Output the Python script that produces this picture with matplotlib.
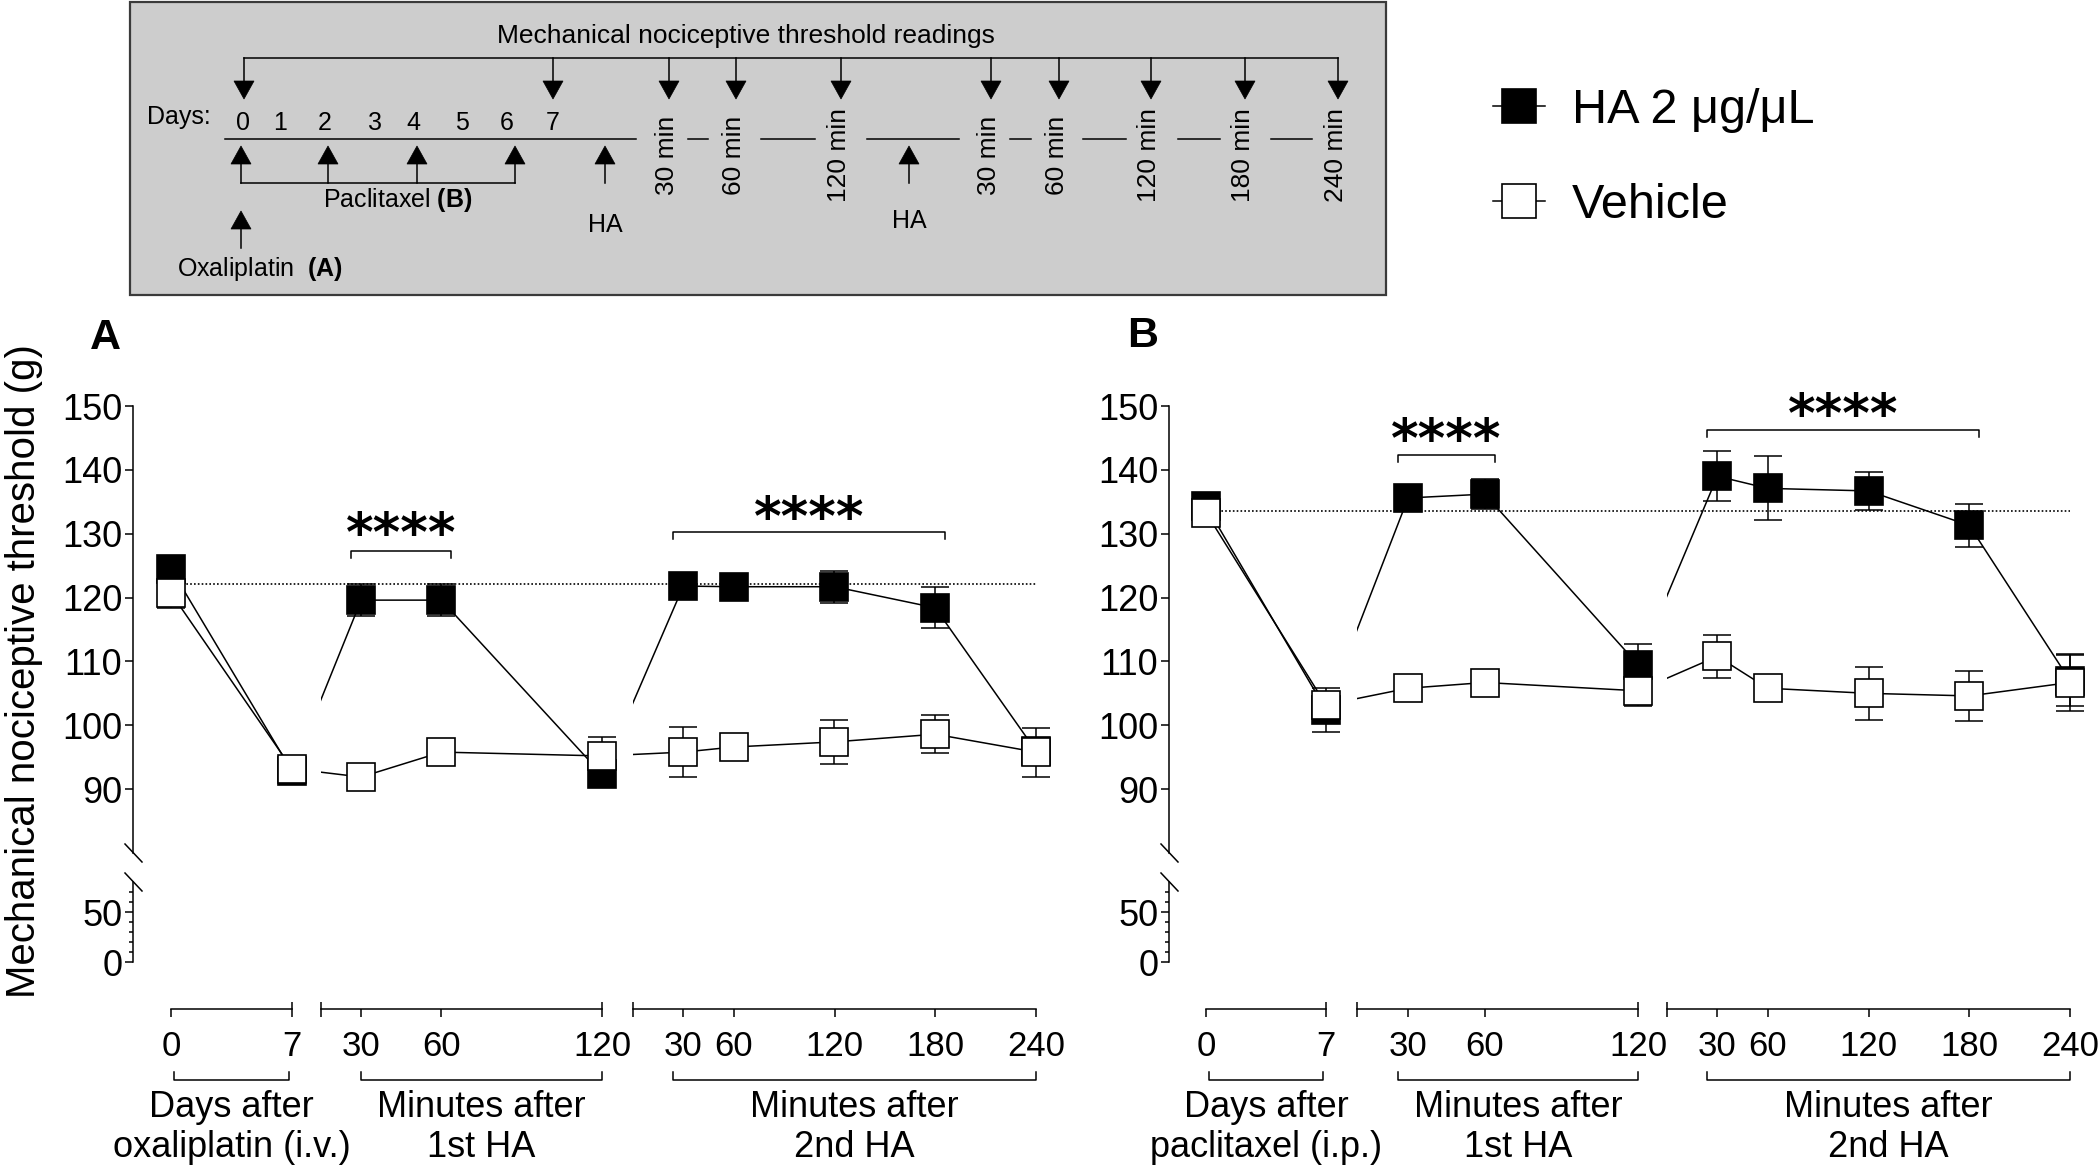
import numpy as np
import matplotlib
matplotlib.use("Agg")
import matplotlib.pyplot as plt
from matplotlib import font_manager as fm
from matplotlib.lines import Line2D
from matplotlib.patches import Rectangle, Polygon, PathPatch
from matplotlib.path import Path

# ---- data (mean, SEM) ----
days = [0, 7]
min_1st = [30, 60, 120]
min_2nd = [30, 60, 120, 180, 240]

# panel A: oxaliplatin
oxa_ha_days = [124.5, 92.8]
oxa_ha_days_sem = [1.5, 1.0]
oxa_ha_1st = [119.6, 119.6, 92.3]
oxa_ha_1st_sem = [2.5, 2.5, 1.4]
oxa_ha_2nd = [121.8, 121.7, 121.7, 118.4, 96.0]
oxa_ha_2nd_sem = [1.5, 1.2, 2.5, 3.2, 1.5]
oxa_veh_days = [120.7, 93.2]
oxa_veh_days_sem = [2.3, 1.0]
oxa_veh_1st = [91.9, 95.8, 95.2]
oxa_veh_1st_sem = [1.0, 1.2, 2.9]
oxa_veh_2nd = [95.8, 96.6, 97.4, 98.6, 95.8]
oxa_veh_2nd_sem = [3.9, 1.2, 3.5, 3.0, 3.85]
oxa_baseline = 122.1

# panel B: paclitaxel
pac_ha_days = [134.4, 102.4]
pac_ha_days_sem = [1.5, 3.5]
pac_ha_1st = [135.6, 136.2, 109.5]
pac_ha_1st_sem = [1.5, 2.4, 3.3]
pac_ha_2nd = [139.0, 137.1, 136.7, 131.3, 107.0]
pac_ha_2nd_sem = [3.9, 5.0, 3.0, 3.4, 4.0]
pac_veh_days = [133.3, 103.2]
pac_veh_days_sem = [2.0, 1.5]
pac_veh_1st = [105.8, 106.7, 105.4]
pac_veh_1st_sem = [1.0, 1.0, 2.4]
pac_veh_2nd = [110.8, 105.8, 105.0, 104.6, 106.7]
pac_veh_2nd_sem = [3.35, 1.0, 4.1, 3.9, 4.4]
pac_baseline = 133.5

# significance: (first point, last point, bracket y, stars y)
oxa_sig = [(2, 3, 127.3, 132.0), (5, 8, 130.3, 134.5)]
pac_sig = [(2, 3, 142.3, 146.7), (5, 8, 146.3, 150.6)]

# ---- fonts ----
names = {f.name for f in fm.fontManager.ttflist}
SANS = "Liberation Sans" if "Liberation Sans" in names else "DejaVu Sans"
NARROW = "Liberation Sans Narrow" if "Liberation Sans Narrow" in names else SANS
SCH = 21 if NARROW != SANS else 18
plt.rcParams["font.family"] = [SANS, "DejaVu Sans"]
plt.rcParams["mathtext.fontset"] = "custom"
plt.rcParams["mathtext.rm"] = NARROW
plt.rcParams["mathtext.bf"] = NARROW + ":bold"

W, H = 2100, 1169
fig = plt.figure(figsize=(W / 100, H / 100), dpi=100)
LW = 1.1

# overlay in pixel coordinates for the schematic and annotations
ov = fig.add_axes([0, 0, 1, 1])
ov.set_xlim(0, W)
ov.set_ylim(H, 0)
ov.axis("off")


def ax_px(x0, y0, x1, y1):
    return fig.add_axes([x0 / W, 1 - y1 / H, (x1 - x0) / W, (y1 - y0) / H])


def to_px(seg, v):
    lo, hi, p0, p1 = seg
    return p0 + (np.asarray(v, float) - lo) / (hi - lo) * (p1 - p0)


# ---- schematic ----
ov.add_patch(Rectangle((130, 2), 1256, 293, fc="#cdcdcd", ec="#3a3a3a", lw=1.6))
ov.text(746, 43, "Mechanical nociceptive threshold readings", ha="center",
        va="baseline", fontsize=SCH + 1, family=NARROW)


def arrow(x, y_from, y_tip, head=18, half=10):
    d = 1 if y_tip > y_from else -1
    ov.plot([x, x], [y_from, y_tip - d * head], color="k", lw=LW)
    ov.add_patch(Polygon([(x - half, y_tip - d * head), (x + half, y_tip - d * head),
                          (x, y_tip)], closed=True, fc="k", ec="k", lw=0.5))


reading_x = [244, 553, 669, 736, 841, 991, 1059, 1151, 1245, 1338]
ov.plot([reading_x[0], reading_x[-1]], [58, 58], color="k", lw=LW)
for x in reading_x:
    arrow(x, 58, 99)

ov.text(147, 124, "Days:", ha="left", va="baseline", fontsize=SCH, family=NARROW)
day_labels = ["0", "1", "2", "3", "4", "5", "6", "7"]
day_label_x = [243, 280, 325, 375, 413, 462, 507, 553]
for x, s in zip(day_label_x, day_labels):
    ov.text(x, 130, s, ha="center", va="baseline", fontsize=SCH, family=NARROW)

timeline = [(225, 636), (688, 708), (761, 815), (867, 959), (1010, 1031),
            (1083, 1126), (1178, 1220), (1271, 1312)]
for a, b in timeline:
    ov.plot([a, b], [139, 139], color="k", lw=LW)

time_labels = ["30 min", "60 min", "120 min", "30 min", "60 min", "120 min",
               "180 min", "240 min"]
for x, s in zip(reading_x[2:], time_labels):
    ov.text(x - 2, 155, s, rotation=90, ha="center", va="center",
            fontsize=SCH + 1, family=NARROW)

pac_x = [241, 328, 417, 515]
for x in pac_x:
    arrow(x, 183, 146)
ov.plot([pac_x[0], pac_x[-1]], [183, 183], color="k", lw=LW)
ov.text(398, 207, r"Paclitaxel $\mathbf{(B)}$", ha="center", va="baseline",
        fontsize=SCH, family=NARROW)
for x, yb in [(605, 232), (909, 228)]:
    arrow(x, 183, 146)
    ov.text(x, yb, "HA", ha="center", va="baseline", fontsize=SCH, family=NARROW)
arrow(241, 248, 211)
ov.text(260, 276, r"Oxaliplatin  $\mathbf{(A)}$", ha="center", va="baseline",
        fontsize=SCH, family=NARROW)

# ---- legend ----
h_ha = Line2D([], [], color="k", lw=LW, marker="s", ms=25, mfc="k", mec="k", mew=1.2)
h_veh = Line2D([], [], color="k", lw=LW, marker="s", ms=25, mfc="w", mec="k", mew=1.2)
fig.legend([h_ha, h_veh], ["HA 2 \u03bcg/\u03bcL", "Vehicle"], loc="center left",
           bbox_to_anchor=(1493 / W, 1 - 158 / H), frameon=False, fontsize=35,
           handlelength=1.07, handletextpad=0.55, labelspacing=1.03,
           borderpad=0, borderaxespad=0)

# ---- data panels ----
Y150, Y80, LOW_TOP, Y0, XAX = 406, 853, 882, 962, 1009

panel_layout = {
    "A": dict(yaxis=133, right=1060, letter_x=105, letter_y=349,
              segs=[(0, 7, 171, 292), (15, 120, 321, 602), (0, 240, 633, 1036)],
              brackets=[(0, 0.2, 6.8, "Days after", "oxaliplatin (i.v.)"),
                        (1, 30, 120, "Minutes after", "1st HA"),
                        (2, 24, 240, "Minutes after", "2nd HA")]),
    "B": dict(yaxis=1169, right=2092, letter_x=1143, letter_y=347,
              segs=[(0, 7, 1206, 1326), (10, 120, 1357, 1638), (0, 240, 1667, 2070)],
              brackets=[(0, 0.2, 6.8, "Days after", "paclitaxel (i.p.)"),
                        (1, 26, 120, "Minutes after", "1st HA"),
                        (2, 24, 240, "Minutes after", "2nd HA")]),
}


def draw_panel(letter, ha, ha_sem, veh, veh_sem, base, sig):
    lay = panel_layout[letter]
    x0, x1 = lay["yaxis"], lay["right"]
    segs = lay["segs"]

    up = ax_px(x0, Y150, x1, Y80)
    low = ax_px(x0, LOW_TOP, x1, Y0)
    for ax in (up, low):
        ax.set_xlim(x0, x1)
        ax.patch.set_alpha(0)
        for s in ("top", "right", "bottom"):
            ax.spines[s].set_visible(False)
        ax.spines["left"].set_linewidth(LW)
        ax.set_xticks([])
        ax.tick_params(axis="y", which="major", length=5.8, width=LW,
                       labelsize=26, pad=2)
        ax.tick_params(axis="y", which="minor", length=2.8, width=LW)
    up.set_ylim(80, 150)
    up.set_yticks(range(90, 151, 10))
    low.set_ylim(0, 80)
    low.set_yticks([0, 50])
    low.set_yticks([10, 20, 30, 40, 60, 70], minor=True)

    xs = np.concatenate([to_px(segs[0], days), to_px(segs[1], min_1st),
                         to_px(segs[2], min_2nd)])

    # lines are only shown inside the three x segments
    verts, codes = [], []
    for _, _, p0, p1 in segs:
        verts += [(p0, 0), (p1, 0), (p1, 200), (p0, 200), (p0, 0)]
        codes += [Path.MOVETO, Path.LINETO, Path.LINETO, Path.LINETO, Path.CLOSEPOLY]
    clip = PathPatch(Path(verts, codes), transform=up.transData)

    up.plot([xs[0], xs[-1]], [base, base], color="k", lw=1.2, ls=(0, (1, 1.3)),
            zorder=1)
    for vals, sem, fc, z in [(ha, ha_sem, "k", 2), (veh, veh_sem, "w", 4)]:
        up.errorbar(xs, vals, yerr=sem, fmt="none", ecolor="k", elinewidth=LW,
                    capsize=10, capthick=LW, zorder=z)
        ln, = up.plot(xs, vals, color="k", lw=LW, zorder=z)
        ln.set_clip_path(clip)
        up.plot(xs, vals, ls="none", marker="s", ms=19.5, mfc=fc, mec="k",
                mew=1.2, zorder=z + 1, clip_on=False)

    for i, j, yb, ys in sig:
        xa, xb = xs[i] - 10, xs[j] + 10
        up.plot([xa, xa, xb, xb], [yb - 1.1, yb, yb, yb - 1.1], color="k", lw=LW,
                clip_on=False)
        up.text((xa + xb) / 2, ys - 4.7, "****", ha="center", va="baseline",
                fontsize=38, fontweight="bold", family="DejaVu Sans", clip_on=False)

    # axis break marks
    for yc in (Y80, LOW_TOP):
        ov.plot([x0 - 8, x0 + 9], [yc - 9, yc + 9], color="k", lw=LW)

    # segmented x axis
    tick_sets = [(days, [str(v) for v in days], [days[-1]]),
                 ([segs[1][0]] + min_1st, [""] + [str(v) for v in min_1st],
                  [segs[1][0], segs[1][1]]),
                 ([segs[2][0]] + min_2nd, [""] + [str(v) for v in min_2nd],
                  [segs[2][0]])]
    for seg, (ticks, labels, ends) in zip(segs, tick_sets):
        lo_, hi_, p0, p1 = seg
        axx = ax_px(p0, XAX - 10, p1, XAX)
        axx.patch.set_alpha(0)
        axx.set_xlim(lo_, hi_)
        axx.set_yticks([])
        for s in ("top", "right", "left"):
            axx.spines[s].set_visible(False)
        axx.spines["bottom"].set_linewidth(LW)
        axx.xaxis.remove_overlapping_locs = False
        axx.set_xticks(ticks, labels=labels)
        axx.set_xticks(ends, minor=True)
        axx.tick_params(axis="x", which="major", direction="out", length=5.8,
                        width=LW, labelsize=25, pad=9.4)
        axx.tick_params(axis="x", which="minor", direction="in", length=5,
                        width=LW)

    for k, va_, vb_, l1, l2 in lay["brackets"]:
        xa, xb = float(to_px(segs[k], va_)), float(to_px(segs[k], vb_))
        ov.plot([xa, xa, xb, xb], [1072, 1080, 1080, 1072], color="k", lw=LW)
        xc = (xa + xb) / 2
        ov.text(xc, 1117, l1, ha="center", va="baseline", fontsize=26)
        ov.text(xc, 1157, l2, ha="center", va="baseline", fontsize=26)

    ov.text(lay["letter_x"], lay["letter_y"], letter, ha="center", va="baseline",
            fontsize=31, fontweight="bold")


draw_panel("A",
           oxa_ha_days + oxa_ha_1st + oxa_ha_2nd,
           oxa_ha_days_sem + oxa_ha_1st_sem + oxa_ha_2nd_sem,
           oxa_veh_days + oxa_veh_1st + oxa_veh_2nd,
           oxa_veh_days_sem + oxa_veh_1st_sem + oxa_veh_2nd_sem,
           oxa_baseline, oxa_sig)
draw_panel("B",
           pac_ha_days + pac_ha_1st + pac_ha_2nd,
           pac_ha_days_sem + pac_ha_1st_sem + pac_ha_2nd_sem,
           pac_veh_days + pac_veh_1st + pac_veh_2nd,
           pac_veh_days_sem + pac_veh_1st_sem + pac_veh_2nd_sem,
           pac_baseline, pac_sig)

ov.text(24, 671, "Mechanical nociceptive threshold (g)", rotation=90,
        ha="center", va="center", fontsize=29)

fig.savefig("out.png", dpi=100)
